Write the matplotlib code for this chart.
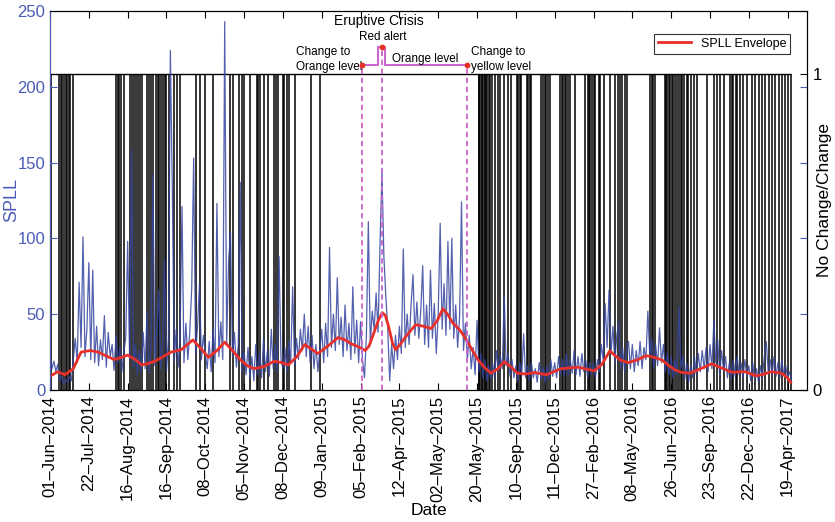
import numpy as np
import matplotlib.pyplot as plt

plt.rcParams['font.family'] = ['Liberation Sans', 'DejaVu Sans']

BLUE = '#34449f'
TICK_BLUE = '#4a5bb8'
MAGENTA = '#cc66cc'
STEP = 2.5  # samples between SPLL readings

# SPLL statistic, 20 readings per tick interval
spll = [22, 14, 19, 12, 17, 6, 9, 4, 7, 5, 9, 6, 20, 34, 18, 71, 28, 101, 22, 40,
        84, 20, 79, 18, 42, 16, 33, 20, 49, 15, 38, 22, 30, 13, 36, 18, 28, 12, 25, 34,
        98, 20, 158, 15, 30, 10, 26, 12, 38, 14, 52, 11, 28, 142, 16, 40, 66, 14, 30, 86,
        12, 34, 224, 133, 18, 40, 15, 36, 121, 18, 44, 20, 38, 67, 153, 24, 42, 70, 20, 36,
        24, 14, 32, 12, 40, 18, 123, 22, 45, 20, 243, 30, 85, 104, 22, 38, 15, 30, 137, 12,
        25, 10, 28, 8, 22, 6, 30, 10, 24, 8, 34, 12, 26, 9, 40, 14, 30, 12, 88, 20,
        14, 28, 12, 32, 18, 68, 16, 34, 20, 40, 26, 50, 22, 42, 18, 36, 14, 30, 12, 26,
        40, 18, 44, 22, 94, 28, 50, 26, 74, 30, 48, 22, 56, 26, 44, 20, 68, 24, 46, 18,
        45, 20, 8, 36, 111, 30, 52, 40, 64, 38, 95, 144, 88, 62, 40, 6, 30, 14, 36, 20,
        42, 24, 93, 28, 50, 30, 56, 76, 36, 58, 34, 52, 82, 30, 56, 28, 79, 34, 57, 24,
        50, 110, 40, 70, 36, 98, 40, 100, 34, 56, 28, 48, 124, 26, 44, 20, 36, 14, 28, 10,
        46, 12, 24, 8, 20, 6, 16, 7, 18, 8, 26, 12, 22, 14, 62, 16, 24, 9, 20, 8,
        16, 6, 18, 9, 37, 8, 16, 6, 18, 8, 14, 5, 18, 7, 15, 5, 16, 7, 20, 9,
        18, 8, 22, 10, 20, 9, 24, 10, 20, 11, 26, 10, 22, 9, 24, 12, 20, 8, 18, 10,
        18, 8, 20, 12, 30, 20, 57, 28, 66, 24, 42, 18, 36, 45, 14, 28, 12, 26, 32, 14,
        30, 12, 26, 16, 32, 14, 28, 20, 52, 22, 34, 14, 30, 16, 41, 18, 30, 12, 24, 10,
        22, 8, 20, 10, 55, 14, 22, 7, 18, 5, 16, 8, 22, 10, 24, 12, 26, 14, 28, 12,
        30, 14, 46, 18, 33, 10, 26, 12, 22, 8, 18, 7, 20, 9, 22, 10, 18, 8, 20, 9,
        16, 6, 18, 7, 14, 5, 16, 8, 22, 32, 12, 20, 10, 22, 9, 18, 8, 20, 10, 16,
        8, 12, 6]

# SPLL envelope (sample index, value)
env_idx = [0, 10, 19, 30, 40, 52, 62, 72, 83, 92, 100, 110, 118, 127, 135, 146,
           156, 169, 177, 184, 193, 204, 215, 225, 235, 245, 254, 263, 276, 289,
           298, 307, 318, 328, 345, 358, 371, 380, 388, 397, 406, 411, 417, 423,
           428, 432, 436, 441, 445, 451, 458, 465, 471, 481, 491, 499, 506, 512,
           519, 527, 534, 543, 551, 560, 568, 577, 585, 594, 602, 613, 624, 639,
           658, 680, 701, 711, 721, 727, 734, 745, 757, 768, 778, 788, 797, 805,
           814, 824, 838, 852, 865, 878, 895, 910, 920, 929, 942, 950, 954]
env_val = [9, 12, 10, 14, 25, 26, 25, 22.5, 20, 21.5, 23, 20, 16.5, 17.5, 19, 22,
           25, 26.5, 30, 33, 28, 21.5, 26, 31.5, 26, 20, 16, 14, 15.5, 19,
           18, 16.5, 22, 30, 24, 29, 34.6, 33, 30.4, 28.5, 26, 29, 37.5, 46,
           51, 49, 42, 31, 26.5, 30, 35, 39.5, 43, 42, 40.5, 46, 53.5, 50,
           44, 40, 35, 27, 20, 14.5, 11, 14, 18.7, 15, 11, 10.5, 11.5, 10,
           14, 15, 12.6, 17, 25.8, 23, 19.8, 18, 20, 22.6, 21.5, 19.8, 16, 13.2,
           11.5, 11, 14, 17.2, 14.5, 11.7, 12, 9.3, 10.5, 12, 11, 8, 5]

# samples flagged as change
change_idx = [1, 12, 14, 16, 18, 20, 22, 24, 26, 29,
              85, 87, 89, 92, 95, 103, 106, 108, 111, 113, 116, 119, 125, 128,
              130, 133, 136, 139, 141, 143, 146, 148, 150, 153, 160, 164, 168,
              188, 193, 200, 210, 232, 236, 244, 247, 250, 257, 266, 268, 270,
              275, 281, 289, 291, 294, 300, 302, 305, 308, 316, 336, 348,
              552, 553, 554, 556, 557, 559, 560, 562, 563, 565, 567, 569, 573,
              577, 579, 585, 590, 594, 601, 603, 605, 607, 614, 616, 618, 620,
              633, 635, 637, 639, 641, 644, 657, 659, 661, 663, 665, 667, 670,
              676, 689, 693, 694, 696, 698, 700, 702, 707, 709, 713, 721, 728,
              732, 734, 737, 741, 743, 773, 775, 777, 779, 792, 793, 795, 797,
              799, 801, 803, 805, 807, 810, 813, 814, 817, 820, 822, 825, 829,
              833, 846, 855, 859, 863, 868, 876, 878, 880, 883, 885, 889, 893,
              898, 904, 908, 913, 917, 921, 926, 930, 934, 939, 943, 947, 951,
              954]

# volcanic alert events
event_idx = [402, 427, 537]
event_level = [214.5, 226.5, 214.5]
alert_x = [402, 423, 423, 432, 432, 537]
alert_y = [214.5, 214.5, 226.5, 226.5, 214.5, 214.5]

tick_labels = ['01–Jun–2014', '22–Jul–2014', '16–Aug–2014', '16–Sep–2014',
               '08–Oct–2014', '05–Nov–2014', '08–Dec–2014', '09–Jan–2015',
               '05–Feb–2015', '12–Apr–2015', '02–May–2015', '20–May–2015',
               '10–Sep–2015', '11–Dec–2015', '27–Feb–2016', '08–May–2016',
               '26–Jun–2016', '23–Sep–2016', '22–Dec–2016', '19–Apr–2017']

spll_idx = np.arange(len(spll)) * STEP
last = spll_idx[-1]

fig = plt.figure(figsize=(8.35, 5.22), dpi=100)
ax = fig.add_axes([0.0599, 0.253, 0.9066, 0.726])
ax2 = ax.twinx()
ax.set_zorder(ax2.get_zorder() + 1)
ax.patch.set_visible(False)

# change indicator on the right axis
ax2.vlines(change_idx, 0, 1, color='k', lw=1.1)
ax2.hlines(1, 0, last, color='k', lw=1.0)
ax2.set_ylim(0, 1.2)
ax2.set_yticks([0, 1])
ax2.tick_params(axis='y', direction='in', length=5, labelsize=12,
                colors='k', pad=4)
ax2.set_ylabel('No Change/Change', fontsize=12.5)
ax2.yaxis.set_label_coords(1.013, 0.5)

# SPLL and envelope on the left axis
ax.plot(spll_idx, spll, color=BLUE, lw=0.9, alpha=0.85)
ax.plot(env_idx, env_val, color='#e8302a', lw=2, label='SPLL Envelope')

ax.vlines(event_idx, 0, event_level, color=MAGENTA, lw=1.3,
          linestyles=(0, (3, 2)))
ax.plot(alert_x, alert_y, color=MAGENTA, lw=1.5)
ax.scatter(event_idx, event_level, color='#e8302a', s=10, zorder=5)

ax.text(423, 243.5, 'Eruptive Crisis', fontsize=10, ha='center', va='center')
ax.text(428, 232.8, 'Red alert', fontsize=8.5, ha='center', va='center')
ax.text(317, 218, 'Change to\nOrange level', fontsize=8.5, ha='left',
        va='center', linespacing=1.3)
ax.text(483, 218.3, 'Orange level', fontsize=8.5, ha='center', va='center')
ax.text(542, 218, 'Change to\nyellow level', fontsize=8.5, ha='left',
        va='center', linespacing=1.3)

ax.set_xlim(0, 975)
ax.set_ylim(0, 250)
ax.set_xticks(np.arange(len(tick_labels)) * 50)
ax.set_xticklabels(tick_labels, rotation=90, fontsize=12)
ax.set_yticks(np.arange(0, 251, 50))
ax.tick_params(axis='x', direction='in', length=5, top=True, pad=4)
ax.tick_params(axis='y', direction='in', length=5, right=True,
               colors=TICK_BLUE, labelsize=12)
ax.tick_params(axis='x', colors='k')
ax.spines['left'].set_color(TICK_BLUE)
ax.set_xlabel('Date', fontsize=12.5, labelpad=1)
ax.set_ylabel('SPLL', fontsize=13, color=TICK_BLUE)
ax.yaxis.set_label_coords(-0.04, 0.5)

leg = ax.legend(loc='upper right', bbox_to_anchor=(0.9775, 0.939),
                borderaxespad=0, fontsize=9, fancybox=False,
                edgecolor='k', handlelength=2.6, borderpad=0.3)
leg.get_frame().set_linewidth(0.8)

fig.savefig('out.png', dpi=100)
